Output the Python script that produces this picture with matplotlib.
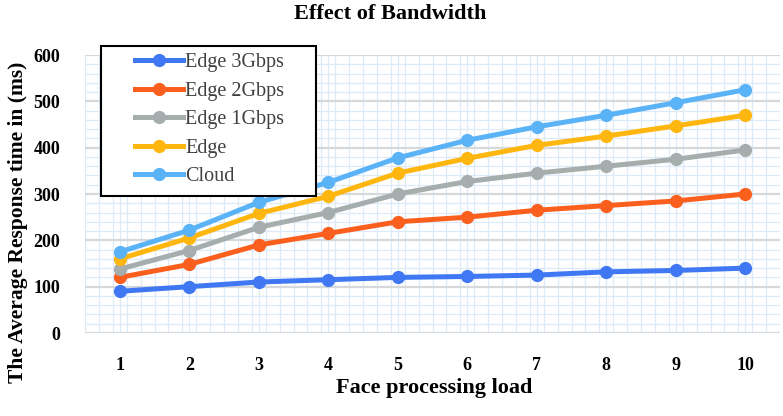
import matplotlib
matplotlib.use("Agg")
import matplotlib.pyplot as plt
from matplotlib.patches import Rectangle
from matplotlib.ticker import MultipleLocator

# Dados
carga = [1, 2, 3, 4, 5, 6, 7, 8, 9, 10]
edge_3gbps = [90, 100, 110, 115, 120, 122, 125, 132, 135, 140]
edge_2gbps = [120, 148, 190, 215, 240, 250, 265, 275, 285, 300]
edge_1gbps = [138, 178, 228, 260, 300, 327, 345, 360, 375, 395]
edge = [160, 205, 258, 295, 345, 377, 405, 425, 447, 470]
cloud = [175, 222, 282, 325, 378, 416, 445, 470, 497, 525]

series = [
    ("Edge 3Gbps", edge_3gbps, "#3F78F2"),
    ("Edge 2Gbps", edge_2gbps, "#FA5F1E"),
    ("Edge 1Gbps", edge_1gbps, "#A5ADAD"),
    ("Edge", edge, "#FFB70F"),
    ("Cloud", cloud, "#5AB2F7"),
]

plt.rcParams["font.family"] = "Liberation Serif"

W, H = 783, 416
fig = plt.figure(figsize=(W / 100, H / 100), dpi=100)
ax = fig.add_axes([85 / W, 1 - 333 / H, 695 / W, 278 / H])

for nome, valores, cor in series:
    ax.plot(carga, valores, color=cor, lw=3.6, marker="o", ms=8.5, label=nome)

ax.set_xlim(0.5, 10.5)
ax.set_ylim(0, 600)
ax.set_xticks(carga)
ax.yaxis.set_major_locator(MultipleLocator(100))
ax.xaxis.set_minor_locator(MultipleLocator(0.2, offset=0.5))
ax.yaxis.set_minor_locator(MultipleLocator(20))

ax.grid(which="minor", color="#DDEAF7", lw=0.9)
ax.grid(which="major", axis="y", color="#D6D9DC", lw=1.6)
ax.grid(which="major", axis="x", color="#DDEAF7", lw=0.9)
ax.set_axisbelow(True)
for s in ax.spines.values():
    s.set_visible(False)
ax.tick_params(which="both", length=0)
ax.tick_params(axis="x", pad=17)
ax.tick_params(axis="y", pad=18)
for lbl in ax.get_xticklabels() + ax.get_yticklabels():
    lbl.set_fontweight("bold")
    lbl.set_fontsize(13)

fig.text(390 / W, 1 - 14 / H, "Effect of Bandwidth", ha="center", va="center",
         fontsize=16, fontweight="bold")
fig.text(434 / W, 1 - 388 / H, "Face processing load", ha="center", va="center",
         fontsize=16, fontweight="bold")
fig.text(18 / W, 1 - 222 / H, "The Average Response time in (ms)", ha="center",
         va="center", rotation=90, fontsize=15.5, fontweight="bold")

# caixa da legenda
caixa = Rectangle((101 / W, 1 - 196 / H), 215 / W, 150 / H, transform=fig.transFigure,
                  facecolor="white", edgecolor="black", lw=1.5, zorder=5)
fig.add_artist(caixa)
leg = fig.legend(loc="upper left", bbox_to_anchor=(135 / W, 1 - 53 / H), fontsize=14.5,
                 frameon=False, handlelength=2.4, borderpad=0, labelspacing=0.47,
                 handletextpad=0.1, borderaxespad=0)
leg.set_zorder(6)
for t in leg.get_texts():
    t.set_color("#404040")

plt.savefig("out.png", dpi=100)
